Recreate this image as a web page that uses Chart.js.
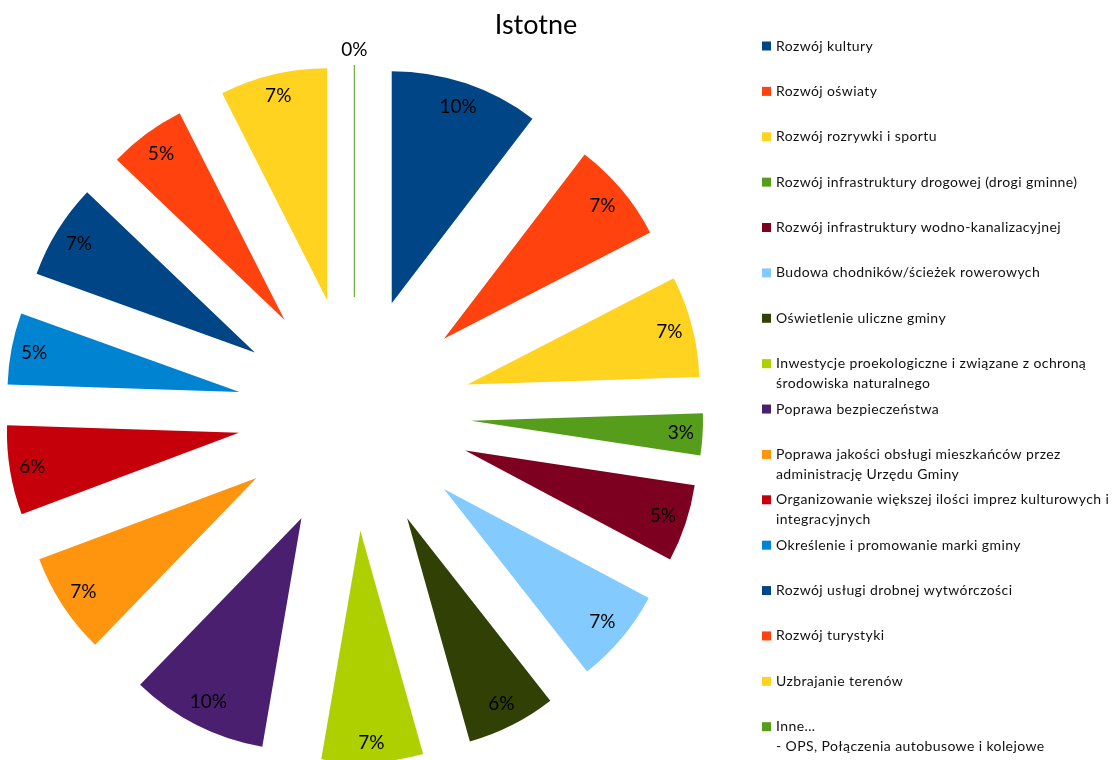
<!DOCTYPE html>
<html>
<head>
<meta charset="utf-8">
<script src="https://cdn.jsdelivr.net/npm/chart.js@4.4.1/dist/chart.umd.min.js"></script>
<style>
  html, body { margin: 0; padding: 0; background: #ffffff; }
  #wrap { width: 1114px; height: 760px; position: relative; }
</style>
</head>
<body>
<div id="wrap"><canvas id="c" width="1114" height="760"></canvas></div>
<script>
// ---- data ----
const chartTitle = 'Istotne';
const categories = [
  'Rozwój kultury',
  'Rozwój oświaty',
  'Rozwój rozrywki i sportu',
  'Rozwój infrastruktury drogowej (drogi gminne)',
  'Rozwój infrastruktury wodno-kanalizacyjnej',
  'Budowa chodników/ścieżek rowerowych',
  'Oświetlenie uliczne gminy',
  'Inwestycje proekologiczne i związane z ochroną\nśrodowiska naturalnego',
  'Poprawa bezpieczeństwa',
  'Poprawa jakości obsługi mieszkańców przez\nadministrację Urzędu Gminy',
  'Organizowanie większej ilości imprez kulturowych i\nintegracyjnych',
  'Określenie i promowanie marki gminy',
  'Rozwój usługi drobnej wytwórczości',
  'Rozwój turystyki',
  'Uzbrajanie terenów',
  'Inne...\n- OPS, Połączenia autobusowe i kolejowe'
];
const counts = [25, 17, 17, 7, 13, 16, 15, 17, 23, 17, 15, 12, 16, 13, 18, 0];
const sliceColors = ['#004586', '#ff420e', '#ffd320', '#579d1c', '#7e0021', '#83caff', '#314004', '#aecf00',
                     '#4b1f6f', '#ff950e', '#c5000b', '#0084d1', '#004586', '#ff420e', '#ffd320', '#579d1c'];

// ---- layout / style constants ----
const EXPLODE = 116.9;   // distance every slice is pulled out (px)
const PIE_RADIUS = 232;
const FONT = 'Lato, "Open Sans", "DejaVu Sans", sans-serif';

// Explode every slice by the same distance along its bisector (library draws the arcs).
const uniformExplode = {
  id: 'uniformExplode',
  beforeDatasetDraw(chart, args) {
    const meta = chart.getDatasetMeta(args.index);
    meta.data.forEach(arc => {
      const mid = (arc.startAngle + arc.endAngle) / 2;
      arc._savedXY = [arc.x, arc.y];
      arc.x = arc.x + Math.cos(mid) * EXPLODE;
      arc.y = arc.y + Math.sin(mid) * EXPLODE;
    });
  },
  afterDatasetDraw(chart, args) {
    const meta = chart.getDatasetMeta(args.index);
    meta.data.forEach(arc => {
      if (arc._savedXY) { arc.x = arc._savedXY[0]; arc.y = arc._savedXY[1]; delete arc._savedXY; }
    });
  }
};

const sliceLabels = {
  id: 'sliceLabels',
  afterDatasetsDraw(chart) {
    const ctx = chart.ctx;
    const meta = chart.getDatasetMeta(0);
    const data = chart.data.datasets[0].data;
    const total = data.reduce((a, b) => a + b, 0);
    ctx.save();
    ctx.font = '19px ' + FONT;
    ctx.textAlign = 'center';
    ctx.textBaseline = 'middle';
    meta.data.forEach((arc, i) => {
      const p = arc.getProps(['x', 'y', 'startAngle', 'endAngle', 'outerRadius'], true);
      const c = p.endAngle - p.startAngle;
      const mid = (p.startAngle + p.endAngle) / 2;
      const ux = Math.cos(mid), uy = Math.sin(mid);
      const ax = p.x + ux * EXPLODE, ay = p.y + uy * EXPLODE;
      if (c === 0) {
        ctx.strokeStyle = sliceColors[i];
        ctx.lineWidth = 1;
        ctx.beginPath();
        ctx.moveTo(ax, ay);
        ctx.lineTo(ax + ux * p.outerRadius, ay + uy * p.outerRadius);
        ctx.stroke();
      }
      const txt = Math.round(data[i] / total * 100) + '%';
      const hw = ctx.measureText(txt).width / 2;
      const hh = 11;
      const ext = hw * Math.abs(ux) + hh * Math.abs(uy);
      const dist = c === 0 ? p.outerRadius + 4 + ext : p.outerRadius - 8 - ext;
      ctx.fillStyle = '#000000';
      ctx.fillText(txt, ax + ux * dist, ay + uy * dist);
    });
    ctx.restore();
  }
};

const sideLegend = {
  id: 'sideLegend',
  afterDraw(chart) {
    const ctx = chart.ctx;
    ctx.save();
    // title
    ctx.fillStyle = '#000000';
    ctx.font = '27px ' + FONT;
    ctx.textAlign = 'center';
    ctx.textBaseline = 'middle';
    ctx.fillText(chartTitle, 536, 25);
    // legend
    ctx.font = '14px ' + FONT;
    if ('letterSpacing' in ctx) ctx.letterSpacing = '0.4px';
    ctx.textAlign = 'left';
    chart.data.labels.forEach((lab, i) => {
      const y = 46 + i * 45.38;
      ctx.fillStyle = sliceColors[i];
      ctx.fillRect(762, y - 4.5, 9, 9);
      ctx.fillStyle = '#111111';
      lab.split('\n').forEach((line, k) => {
        ctx.fillText(line, 776, y + k * 20);
      });
    });
    ctx.restore();
  }
};

new Chart(document.getElementById('c'), {
  type: 'pie',
  data: {
    labels: categories,
    datasets: [{
      data: counts,
      backgroundColor: sliceColors,
      borderWidth: 0,
      offset: 0,
      hoverOffset: 0,
      clip: false
    }]
  },
  options: {
    responsive: false,
    animation: false,
    events: [],
    radius: PIE_RADIUS,
    layout: { padding: { left: 0, top: 67.8, right: 405.4, bottom: 0 } },
    plugins: {
      legend: { display: false },
      title: { display: false },
      tooltip: { enabled: false }
    }
  },
  plugins: [uniformExplode, sliceLabels, sideLegend]
});
</script>
</body>
</html>
